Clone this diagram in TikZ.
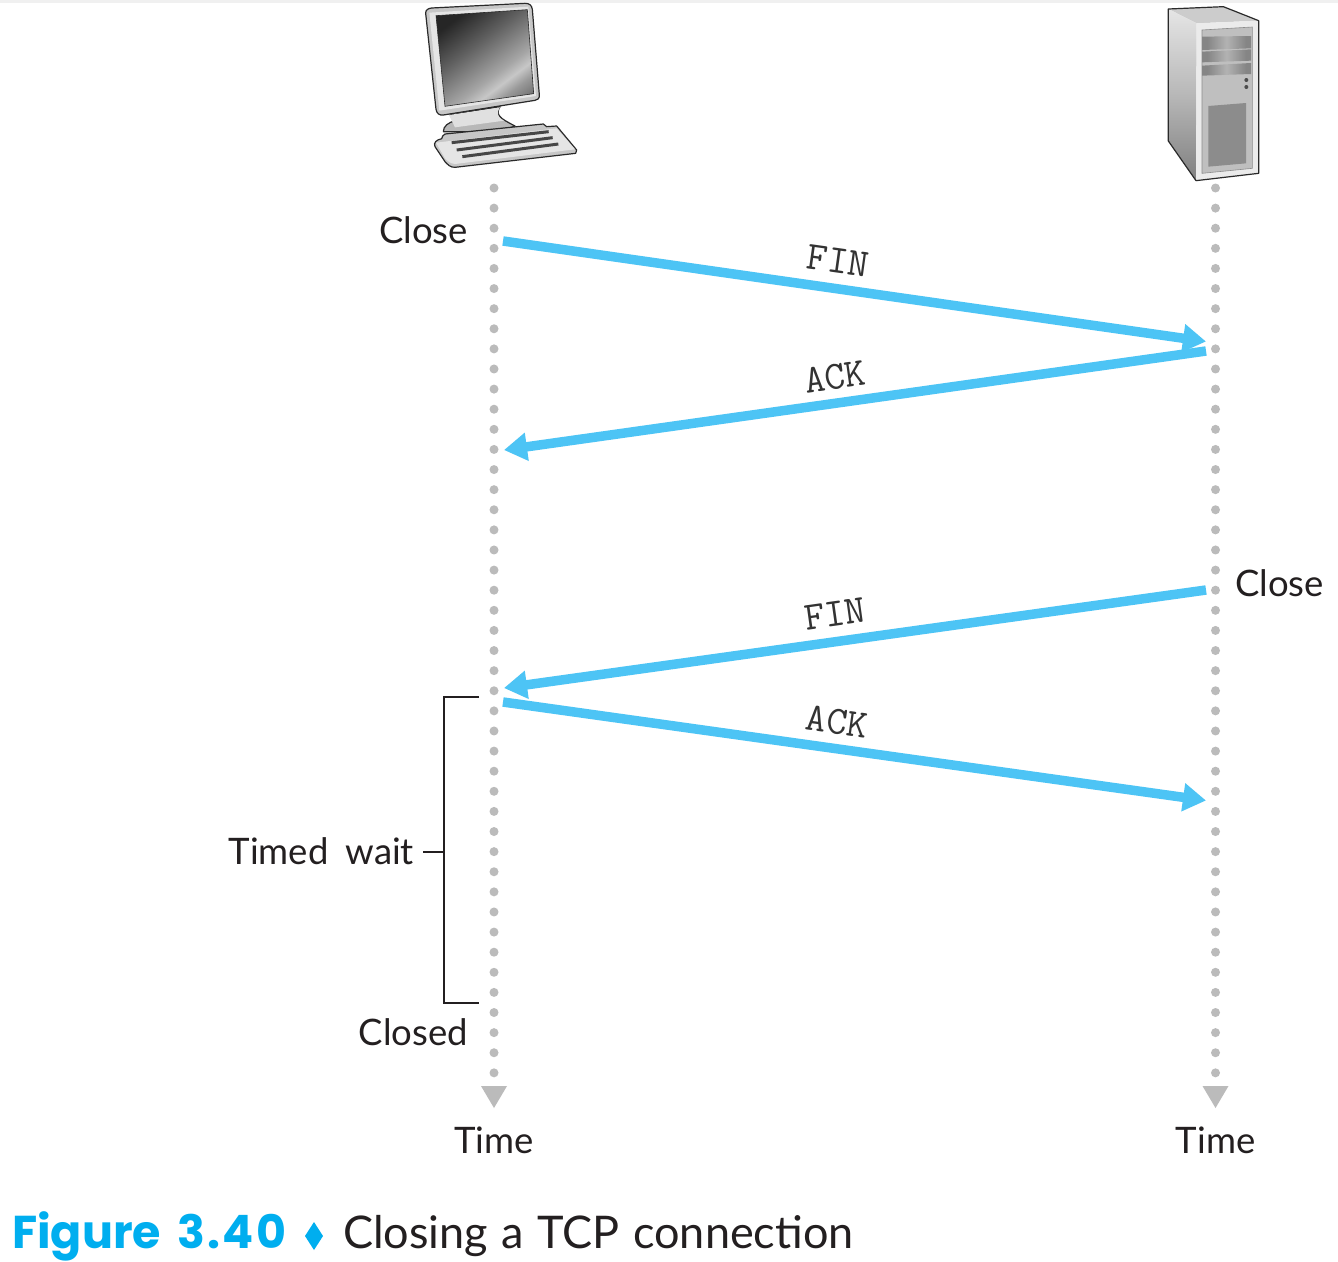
\documentclass[tikz,border=0pt]{standalone}
\usepackage{fontspec}
\setmainfont{Lato}
\newfontfamily\figfont{Poppins}
\usetikzlibrary{arrows.meta}
\definecolor{flow}{HTML}{4DC4F5}
\definecolor{dotgray}{HTML}{BBBBBB}
\definecolor{figblue}{HTML}{00AEEF}
\definecolor{txt}{HTML}{231F20}
\definecolor{edgek}{HTML}{2A2A2A}
\pgfdeclarehorizontalshading{screenshade}{100bp}{
 color(0bp)=(black!85); color(25bp)=(black!85); color(42bp)=(black!62); color(60bp)=(black!35);
 color(66bp)=(black!22); color(72bp)=(black!40); color(82bp)=(black!60); color(100bp)=(black!70)}
\pgfdeclareverticalshading{towerside}{100bp}{
 color(0bp)=(black!50); color(25bp)=(black!50); color(50bp)=(black!28); color(75bp)=(black!10); color(100bp)=(black!10)}
\pgfdeclarehorizontalshading{baybar}{100bp}{
 color(0bp)=(black!48); color(30bp)=(black!48); color(50bp)=(black!30); color(70bp)=(black!48); color(100bp)=(black!48)}
\tikzset{
 lbl/.style={font=\fontsize{36.5}{36.5}\selectfont, text=txt, inner sep=0pt, outer sep=0pt},
 msg/.style={font=\ttfamily\fontsize{40}{40}\selectfont\addfontfeature{LetterSpace=3}, text=black!80, inner sep=0pt},
 flowarrow/.style={draw=flow, line width=9.5pt, -{Triangle[length=23pt,width=27pt,fill=flow]}},
 timeline/.style={draw=dotgray, line width=9pt, line cap=round, dash pattern=on 0pt off 20.11pt},
 timehead/.style={fill=dotgray, draw=none},
 bracketline/.style={draw=txt, line width=1.4pt},
 body/.style={draw=edgek, line width=1.2pt, line join=round},
}
\begin{document}
\begin{tikzpicture}[x=1pt,y=-1pt]
\useasboundingbox (0,0) rectangle (1338,1261);
\fill[white] (0,0) rectangle (1338,1261);
\fill[black!6] (0,0) rectangle (1338,3);

% client computer (coordinates follow a 3x crop)
\begin{scope}[shift={(400,0)},x=0.33333pt,y=-0.33333pt]
 \path[fill=black!28,body] (130,395) .. controls (130,378) and (145,368) .. (165,362) -- (150,345) -- (300,320) .. controls (285,345) and (300,355) .. (345,378) -- (300,395) -- cycle;
 \path[fill=black!12] (147,345) -- (300,322) .. controls (288,340) and (292,352) .. (312,362) -- (165,382) -- cycle;
 \path[fill=black!22,body] (77,40) .. controls (76,30) and (85,25) .. (95,24) -- (375,10) .. controls (388,10) and (395,15) .. (397,28) -- (418,285) .. controls (419,296) and (412,300) .. (405,301) -- (130,345) .. controls (118,347) and (110,340) .. (108,328) -- cycle;
 \fill[black!10] (88,38) -- (385,20) -- (408,288) -- (118,332) -- cycle;
 \shade[shading=screenshade, shading angle=-53] (108,47) -- (382,29) -- (401,281) -- (135,319) -- cycle;
 \draw[edgek,line width=.6pt] (108,47) -- (382,29) -- (401,281) -- (135,319) -- cycle;
 \path[fill=black!22,body] (128,408) -- (135,402) -- (430,372) -- (440,380) -- (470,378) -- (530,450) -- (527,460) -- (165,502) .. controls (150,502) and (145,495) .. (135,485) -- (105,440) .. controls (100,428) and (108,420) .. (125,416) -- cycle;
 \fill[black!10] (108,428) -- (470,385) -- (525,448) -- (165,492) .. controls (150,490) and (145,485) .. (135,475) -- cycle;
 \foreach \a/\b/\c/\d in {155/428/446/395, 170/450/458/413, 187/470/475/432}
  \draw[black!72,line width=3pt] (\a,\b) -- (\c,\d);
\end{scope}

% server tower (coordinates follow a 3x crop)
\begin{scope}[shift={(1140,0)},x=0.33333pt,y=-0.33333pt]
 \path[fill=black!20] (85,27) -- (250,20) -- (356,62) -- (170,70) -- cycle;
 \shade[shading=towerside] (85,27) -- (170,70) -- (168,542) -- (85,423) -- cycle;
 \path[fill=black!8] (170,70) -- (356,62) -- (356,520) -- (168,542) -- cycle;
 \draw[edgek,line width=1.2pt,line join=round] (85,423) -- (85,27) -- (250,20) -- (356,62) -- (356,520) -- (168,542) -- cycle;
 \path[fill=black!25,draw=black!45,line width=.6pt] (186,90) -- (337,81) -- (337,505) -- (186,520) -- cycle;
 \foreach \a/\b/\c/\d in {110/150/108/145, 155/187/148/182, 197/227/189/222}
  \shade[shading=baybar] (186,\a) -- (333,\c) -- (333,\d) -- (186,\b) -- cycle;
 \fill[black!45] (205,318) -- (318,309) -- (318,490) -- (205,500) -- cycle;
 \fill[black!70] (319,240) circle [radius=6];
 \fill[black!70] (319,261) circle [radius=6];
\end{scope}

% life lines
\coordinate (cTop) at (494,188);
\coordinate (cEnd) at (494,1074);
\coordinate (sTop) at (1215.5,188);
\coordinate (sEnd) at (1215.5,1074);
\draw[timeline] (cTop) -- (cEnd);
\draw[timeline] (sTop) -- (sEnd);
\fill[timehead] (481,1086) -- (507,1086) -- (494,1108) -- cycle;
\fill[timehead] (1202.5,1086) -- (1228.5,1086) -- (1215.5,1108) -- cycle;

% messages
\coordinate (a1) at (503,241);   \coordinate (b1) at (1206,341.5);
\coordinate (b2) at (1206,351);  \coordinate (a2) at (504,450);
\coordinate (b3) at (1206,590);  \coordinate (a3) at (504,688);
\coordinate (a4) at (503,702);   \coordinate (b4) at (1206,800.5);
\draw[flowarrow] (a1) -- (b1);
\draw[flowarrow] (b2) -- (a2);
\draw[flowarrow] (b3) -- (a3);
\draw[flowarrow] (a4) -- (b4);
\node[msg,rotate=-8] (fin1) at (838,261) {FIN};
\node[msg,rotate=8] (ack1) at (835,377) {ACK};
\node[msg,rotate=8] (fin2) at (835,614) {FIN};
\node[msg,rotate=-8] (ack2) at (837,722) {ACK};

% labels
\node[lbl,anchor=base east] (closeA) at (468,243) {Close};
\node[lbl,anchor=base west] (closeB) at (1235,596) {Close};
\node[lbl,anchor=base east] (timed) at (414,864) {Timed\hspace*{17pt}wait};
\node[lbl,anchor=base east] (closed) at (468,1045) {Closed};
\node[lbl,anchor=base] (timeA) at (494,1153) {Time};
\node[lbl,anchor=base] (timeB) at (1215.5,1153) {Time};

% timed-wait bracket
\coordinate (brTop) at (479,697);
\coordinate (brBot) at (479,1003);
\coordinate (brMid) at (444,852);
\coordinate (brTick) at (423,852);
\draw[bracketline] (brTop) -- (444,697) -- (444,1003) -- (brBot);
\draw[bracketline] (brMid) -- (brTick);

% caption
\node[inner sep=0pt,anchor=base west,text=figblue,font=\figfont\bfseries\fontsize{46}{46}\selectfont] (figA) at (12,1248) {Figure\hspace*{16pt}{\addfontfeature{LetterSpace=5}3.40}};
\fill[figblue] (314,1222) -- (323,1236) -- (314,1250) -- (305,1236) -- cycle;
\node[inner sep=0pt,anchor=base west,text=txt,font=\fontsize{45}{45}\selectfont] (figB) at (343,1248) {Closing\hspace*{13.5pt}a\hspace*{13.5pt}TCP\hspace*{13.5pt}connection};
\end{tikzpicture}
\end{document}
